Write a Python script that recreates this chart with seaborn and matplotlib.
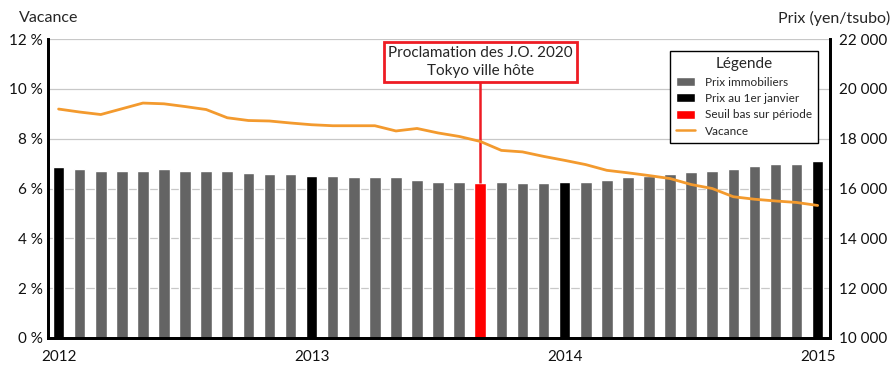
import numpy as np
import pandas as pd
import matplotlib
matplotlib.use('Agg')
import matplotlib.pyplot as plt
import seaborn as sns
from matplotlib.patches import Patch
from matplotlib.lines import Line2D

# monthly data, Jan 2012 -> Jan 2015
months = list(range(37))
year_labels = ['2012', '2013', '2014', '2015']
year_ticks = [0, 12, 24, 36]

# price (yen/tsubo), right axis
prix = [16870, 16800, 16710, 16710, 16710, 16800, 16710, 16710, 16710, 16640,
        16570, 16570, 16520, 16520, 16450, 16450, 16450, 16350, 16280, 16280,
        16230, 16280, 16230, 16230, 16280, 16280, 16350, 16450, 16520, 16600,
        16650, 16710, 16800, 16890, 16970, 16970, 17090]

# vacancy rate (%), left axis
vacance = [9.19, 9.07, 8.97, 9.2, 9.43, 9.4, 9.29, 9.17, 8.84, 8.73,
           8.71, 8.63, 8.56, 8.52, 8.52, 8.52, 8.31, 8.41, 8.23, 8.09,
           7.89, 7.53, 7.47, 7.29, 7.13, 6.96, 6.73, 6.63, 6.52, 6.4,
           6.16, 6.0, 5.67, 5.57, 5.5, 5.44, 5.32]

jan_idx = [0, 12, 24, 36]
low_idx = 20  # Sept 2013

GREY = '#646464'
ORANGE = '#f39a2e'
colors = []
for i in months:
    if i == low_idx:
        colors.append('#ff0000')
    elif i in jan_idx:
        colors.append('#000000')
    else:
        colors.append(GREY)

df = pd.DataFrame({'mois': months, 'prix': prix, 'vacance': vacance})

sns.set_style('white')
plt.rcParams['font.family'] = ['Lato', 'DejaVu Sans']

fig = plt.figure(figsize=(8.93, 3.7), dpi=100)
ax = fig.add_axes([0.0538, 0.0865, 0.876, 0.808])

# bars on the price scale
sns.barplot(data=df, x='mois', y='prix', hue='mois', palette=colors,
            legend=False, width=0.55, saturation=1, ax=ax)
ax.set_ylim(10000, 22000)
ax.set_xlim(-0.5, 36.6)
ax.set_xticks(year_ticks)
ax.set_xticklabels(year_labels)
ax.set_xlabel('')
ax.set_ylabel('')
ax.grid(axis='y', color='#c8c8c8', lw=0.9)
ax.set_axisbelow(True)

# line on the vacancy scale
ax2 = ax.twinx()
sns.lineplot(data=df, x='mois', y='vacance', color=ORANGE, lw=2, ax=ax2)
ax2.set_ylim(0, 12)
ax2.set_ylabel('')
ax2.set_xlabel('')

# swap sides: prices right, vacancy left
ax.yaxis.tick_right()
ax.set_yticks(np.arange(10000, 22001, 2000))
ax.set_yticklabels([f'{v:,}'.replace(',', ' ') for v in range(10000, 22001, 2000)])
ax2.yaxis.tick_left()
ax2.set_yticks(range(0, 13, 2))
ax2.set_yticklabels([f'{v} %' for v in range(0, 13, 2)])

for a in (ax, ax2):
    a.spines['top'].set_visible(False)
    a.tick_params(length=0, labelsize=11, colors='#111111')
    for s in ('left', 'right', 'bottom'):
        a.spines[s].set_color('black')
        a.spines[s].set_linewidth(2)
ax.tick_params(axis='x', pad=9)
ax.tick_params(axis='y', pad=6)
ax2.tick_params(axis='y', pad=4)

fig.text(0.021, 0.95, 'Vacance', fontsize=11.5, ha='left', va='center')
fig.text(0.997, 0.95, 'Prix (yen/tsubo)', fontsize=11.5, ha='right', va='center')

# Olympic announcement
ax.text(low_idx, 21080, 'Proclamation des J.O. 2020\nTokyo ville hôte',
        ha='center', va='center', fontsize=11, linespacing=1.3, zorder=6,
        bbox=dict(boxstyle='square,pad=0.28', fc='white', ec='#ee1c24', lw=2))
ax.vlines(low_idx, prix[low_idx], 20270, color='#ee1c24', lw=1.8, zorder=5)

handles = [Patch(fc=GREY, label='Prix immobiliers'),
           Patch(fc='#000000', label='Prix au 1er janvier'),
           Patch(fc='#ff0000', label='Seuil bas sur période'),
           Line2D([], [], color=ORANGE, lw=1.8, label='Vacance')]
leg = ax2.legend(handles=handles, title='Légende', loc='upper right',
                 bbox_to_anchor=(0.992, 0.98), fontsize=8.5, title_fontsize=11,
                 fancybox=False, edgecolor='black', framealpha=1,
                 handlelength=1.6, handleheight=0.8, labelspacing=0.45,
                 borderpad=0.55)
leg.get_frame().set_linewidth(1)

fig.savefig('out.png', dpi=100)
